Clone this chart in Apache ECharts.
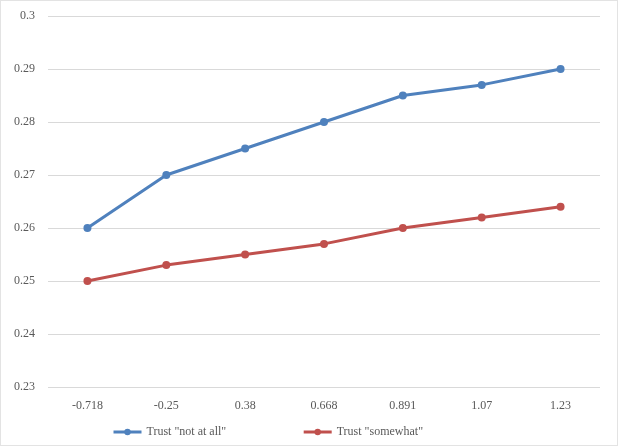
<!DOCTYPE html>
<html lang="en">
<head>
    <meta charset="utf-8">
    <script type="text/javascript" src="https://cdn.jsdelivr.net/npm/echarts@6/dist/echarts.min.js"></script>
</head>
<body style="margin: 0">
<div id="container" style="position:absolute;left:0;top:0;width:616px;height:444px;border:1px solid #e3e3e3"></div>

<script type="text/javascript">
    var categories = ['-0.718', '-0.25', '0.38', '0.668', '0.891', '1.07', '1.23'];
    var notAtAll = [0.26, 0.27, 0.275, 0.28, 0.285, 0.287, 0.29];
    var somewhat = [0.25, 0.253, 0.255, 0.257, 0.26, 0.262, 0.264];
    var seriesNames = ['Trust "not at all"', 'Trust "somewhat"'];

    var dom = document.getElementById("container");
    var myChart = echarts.init(dom);
    var font = 'Liberation Serif';

    var option = {
        animation: false,
        textStyle: { fontFamily: font },
        color: ['#4f81bd', '#c0504d'],
        grid: {
            left: 47,
            right: 17,
            top: 15,
            bottom: 58
        },
        legend: {
            bottom: 2,
            left: 106,
            itemGap: 76,
            itemWidth: 28,
            itemHeight: 8,
            lineStyle: { width: 3 },
            textStyle: { fontFamily: font, fontSize: 12, color: '#595959' },
            data: seriesNames
        },
        xAxis: {
            type: 'category',
            data: categories,
            boundaryGap: true,
            axisLine: { show: false },
            axisTick: { show: false },
            axisLabel: { fontFamily: font, fontSize: 12, color: '#595959', margin: 13 }
        },
        yAxis: {
            type: 'value',
            min: 0.23,
            max: 0.3,
            interval: 0.01,
            axisLine: { show: false },
            axisTick: { show: false },
            axisLabel: { fontFamily: font, fontSize: 12, color: '#595959', margin: 13 },
            splitLine: { lineStyle: { color: '#d9d9d9', width: 1 } }
        },
        series: [
            {
                name: seriesNames[0],
                type: 'line',
                data: notAtAll,
                symbol: 'circle',
                symbolSize: 8,
                lineStyle: { width: 3 }
            },
            {
                name: seriesNames[1],
                type: 'line',
                data: somewhat,
                symbol: 'circle',
                symbolSize: 8,
                lineStyle: { width: 3 }
            }
        ]
    };

    myChart.setOption(option);
</script>
</body>
</html>
